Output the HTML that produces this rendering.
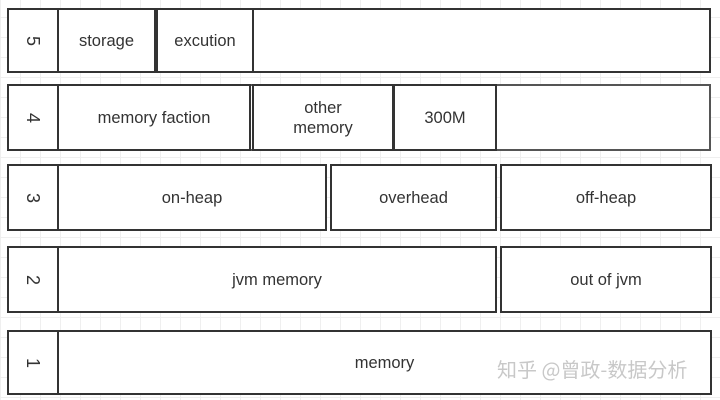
<!DOCTYPE html>
<html><head><meta charset="utf-8"><style>
html,body{margin:0;padding:0}
body{width:720px;height:400px;position:relative;overflow:hidden;background:#fff;
background-image:linear-gradient(#efefef 1px,transparent 1px),linear-gradient(90deg,#efefef 1px,transparent 1px);
background-size:20px 20px;background-position:0 -3px;
font-family:"Liberation Sans","Noto Sans CJK SC",sans-serif;color:#333}
.b{position:absolute;box-sizing:border-box;border:2.5px solid #333;background:#fff;display:flex;align-items:center;justify-content:center;text-align:center;font-size:16.5px;line-height:20px}
.n span{display:inline-block;transform:rotate(90deg);font-size:18px}
.wm{position:absolute;left:497px;top:354px;font-size:20px;color:#c8c8c8;font-family:"Noto Sans CJK SC",sans-serif;letter-spacing:0px}
</style></head><body>
<div class="b" style="left:7px;top:8px;width:704px;height:65px"></div>
<div class="b n" style="left:7px;top:8px;width:53px;height:65px"><span>5</span></div>
<div class="b" style="left:57px;top:8px;width:99px;height:65px">storage</div>
<div class="b" style="left:156px;top:8px;width:98px;height:65px">excution</div>
<div class="b" style="left:7px;top:84px;width:704px;height:67px;border-color:#555"></div>
<div class="b n" style="left:7px;top:84px;width:53px;height:67px"><span>4</span></div>
<div class="b" style="left:57px;top:84px;width:194px;height:67px">memory faction</div>
<div class="b" style="left:252px;top:84px;width:142px;height:67px">other<br>memory</div>
<div class="b" style="left:393px;top:84px;width:104px;height:67px">300M</div>
<div class="b n" style="left:7px;top:164px;width:53px;height:67px"><span>3</span></div>
<div class="b" style="left:57px;top:164px;width:270px;height:67px">on-heap</div>
<div class="b" style="left:330px;top:164px;width:167px;height:67px">overhead</div>
<div class="b" style="left:500px;top:164px;width:212px;height:67px">off-heap</div>
<div class="b n" style="left:7px;top:246px;width:53px;height:67px"><span>2</span></div>
<div class="b" style="left:57px;top:246px;width:440px;height:67px">jvm memory</div>
<div class="b" style="left:500px;top:246px;width:212px;height:67px">out of jvm</div>
<div class="b n" style="left:7px;top:330px;width:53px;height:65px"><span>1</span></div>
<div class="b" style="left:57px;top:330px;width:655px;height:65px">memory</div>
<div class="wm">知乎 @曾政-数据分析</div>
</body></html>
